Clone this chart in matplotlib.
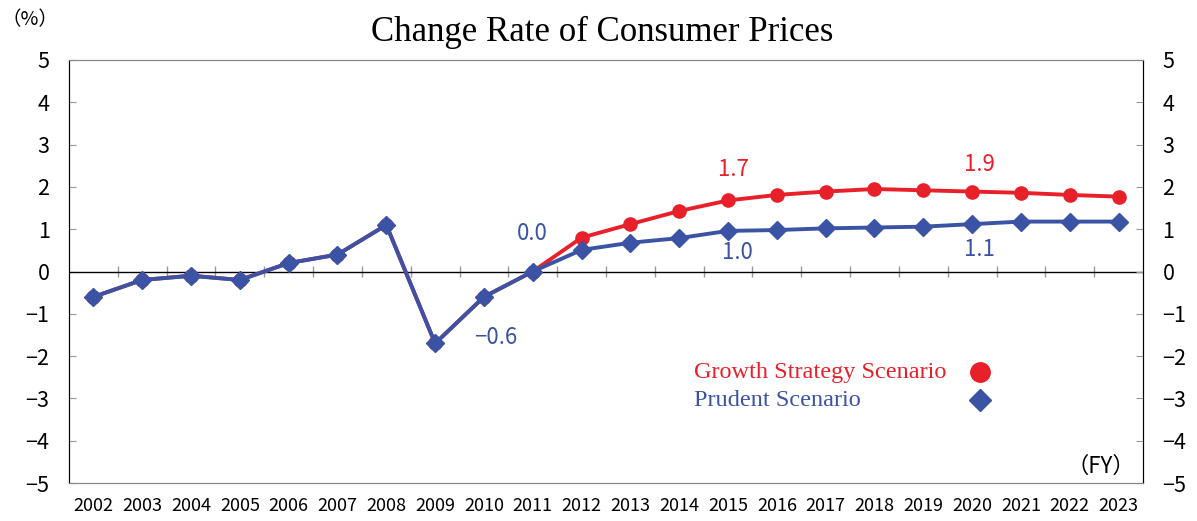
import matplotlib
matplotlib.use("Agg")
import matplotlib.pyplot as plt
import numpy as np

years = [str(y) for y in range(2002, 2024)]
growth = [-0.6, -0.2, -0.1, -0.2, 0.2, 0.4, 1.1, -1.7, -0.6, 0.0,
          0.80, 1.12, 1.43, 1.68, 1.81, 1.89, 1.95, 1.92, 1.89, 1.86, 1.81, 1.77]
prudent = [-0.6, -0.2, -0.1, -0.2, 0.2, 0.4, 1.1, -1.7, -0.6, 0.0,
           0.51, 0.68, 0.79, 0.96, 0.98, 1.02, 1.04, 1.06, 1.12, 1.18, 1.18, 1.18]
yticks = [5, 4, 3, 2, 1, 0, -1, -2, -3, -4, -5]
# labelled points: (series, year index, text)
labels = [("prudent", 9, "0.0"), ("prudent", 8, "\u22120.6"),
          ("growth", 13, "1.7"), ("prudent", 13, "1.0"),
          ("growth", 18, "1.9"), ("prudent", 18, "1.1")]
label_offsets = [(0, 38), (12, -41), (5, 31), (9, -22), (7, 27), (7, -25)]

RED = "#E8202A"
BLUE = "#3A53A4"
SANS = ["Noto Sans CJK JP", "DejaVu Sans"]
SERIF = ["Liberation Serif", "DejaVu Serif"]

fig = plt.figure(figsize=(11.97, 5.21), dpi=100)
ax = fig.add_axes([69/1197, 1 - 483/521, (1143-69)/1197, (483-60)/521])
x = np.arange(len(years))

ax.plot(x, growth, color=RED, lw=2.8, marker="o", ms=9.5, zorder=3)
ax.plot(x, prudent, color=BLUE, lw=2.8, marker="D", ms=9, zorder=4)

ax.set_xlim(-0.5, len(years) - 0.5)
ax.set_ylim(-5, 5)
ax.axhline(0, color="black", lw=1.0, zorder=2)
bounds = np.arange(len(years) + 1) - 0.5
ax.vlines(bounds[1:-1], -0.12, 0.12, color="#999999", lw=1.0, zorder=1)

ax.set_xticks(x)
ax.set_xticklabels(years, family=SANS, fontsize=13)
ax.tick_params(axis="x", length=0, pad=10)
ax.set_yticks(yticks)
ax.set_yticklabels([str(v).replace("-", "\u2212") for v in yticks], family=SANS, fontsize=15.5)
ax.tick_params(axis="y", direction="in", length=5, color="#999999", pad=14)

ax2 = ax.twinx()
ax2.set_ylim(-5, 5)
ax2.set_yticks(yticks)
ax2.set_yticklabels([str(v).replace("-", "\u2212") for v in yticks], family=SANS, fontsize=15.5)
ax2.tick_params(axis="y", direction="in", length=5, color="#999999", pad=14)

for a in (ax, ax2):
    a.spines["top"].set_color("#888888")
    a.spines["bottom"].set_color("#888888")
    a.spines["left"].set_color("black")
    a.spines["right"].set_color("black")

series = {"growth": growth, "prudent": prudent}
for (s, i, t), (dx, dy) in zip(labels, label_offsets):
    ax.annotate(t, (x[i], series[s][i]), xytext=(dx, dy), textcoords="offset pixels",
                ha="center", va="center", color=RED if s == "growth" else BLUE,
                family=SANS, fontsize=16, zorder=5)

# legend
ax.text(0.582, 0.262, "Growth Strategy Scenario", transform=ax.transAxes, ha="left",
        va="center", color=RED, family=SERIF, fontsize=17.5)
ax.text(0.582, 0.196, "Prudent Scenario", transform=ax.transAxes, ha="left",
        va="center", color=BLUE, family=SERIF, fontsize=17.5)
ax.plot([0.848], [0.262], transform=ax.transAxes, marker="o", ms=14, color=RED, clip_on=False)
ax.plot([0.848], [0.196], transform=ax.transAxes, marker="D", ms=11, color=BLUE, clip_on=False)

ax.text(0.993, 0.04, "（FY）", transform=ax.transAxes, ha="right", va="center",
        family=SANS, fontsize=16)
fig.text(30/1197, 1 - 20/521, "（%）", ha="center", va="center",
         family=SANS, fontsize=14)
fig.text(602/1197, 1 - 32/521, "Change Rate of Consumer Prices", ha="center", va="center",
         family=SERIF, fontsize=25)

fig.savefig("out.png", dpi=100)
